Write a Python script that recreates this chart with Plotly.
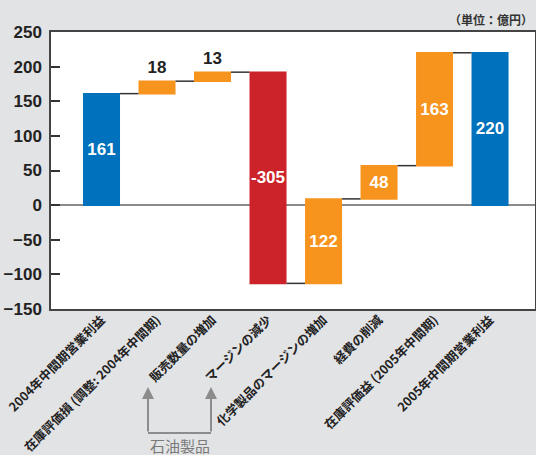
import plotly.graph_objects as go

# Operating income bridge (unit: 100 million yen)
categories = [
    "2004年中間期営業利益",
    "在庫評価損 (調整: 2004年中間期)",
    "販売数量の増加",
    "マージンの減少",
    "化学製品のマージンの増加",
    "経費の削減",
    "在庫評価益 (2005年中間期)",
    "2005年中間期営業利益",
]
values = [161, 18, 13, -305, 122, 48, 163, 220]
measures = ["absolute", "relative", "relative", "relative",
            "relative", "relative", "relative", "total"]
labels = ["161", "18", "13", "-305", "122", "48", "163", "220"]
label_pos = ["inside", "outside", "outside", "inside",
             "inside", "inside", "inside", "inside"]
y_ticks = [250, 200, 150, 100, 50, 0, -50, -100, -150]

BLUE = "#0071bc"
ORANGE = "#f7941d"
RED = "#cc2229"
BG = "#e2e3e5"
NUM_FONT = "Liberation Sans, Arial, sans-serif"
JP_FONT = "Noto Sans CJK JP, sans-serif"

fig = go.Figure(go.Waterfall(
    x=categories,
    y=values,
    measure=measures,
    text=labels,
    textinfo="text",
    textposition=label_pos,
    textangle=0,
    insidetextanchor="middle",
    constraintext="none",
    insidetextfont=dict(color="white", size=17, family=NUM_FONT, weight="bold"),
    outsidetextfont=dict(color="#222222", size=17, family=NUM_FONT, weight="bold"),
    increasing=dict(marker=dict(color=ORANGE)),
    decreasing=dict(marker=dict(color=RED)),
    totals=dict(marker=dict(color=BLUE)),
    connector=dict(mode="between", line=dict(color="#333333", width=1.5)),
    cliponaxis=False,
    hoverinfo="skip",
))

# Plot area geometry in pixels (used for the bracket below the labels)
L, R, T, B = 51, 1, 32, 146
W, H = 536, 455
pw, ph = W - L - R, H - T - B


def px_x(x):
    return (x - L) / pw


def px_y(y):
    return 1 - (y - T) / ph


fig.update_layout(
    width=W, height=H,
    margin=dict(l=L, r=R, t=T, b=B, pad=0, autoexpand=False),
    paper_bgcolor=BG,
    plot_bgcolor="white",
    showlegend=False,
    waterfallgap=0.333,
    font=dict(family=NUM_FONT, color="#222222"),
    xaxis=dict(
        type="category",
        range=[-0.91, 7.81],
        tickangle=-45,
        automargin=False,
        ticklabelstandoff=-3,
        tickfont=dict(family=JP_FONT, size=12.5, color="#222222", weight="bold"),
        showline=True, mirror=True, linecolor="#444444", linewidth=1.5,
        ticks="", showgrid=False, zeroline=False,
    ),
    yaxis=dict(
        range=[-150, 250],
        tickvals=y_ticks,
        automargin=False,
        ticks="inside", ticklen=9, tickwidth=1.5, tickcolor="#333333",
        tickfont=dict(family=NUM_FONT, size=17, color="#222222", weight="bold"),
        ticklabelstandoff=4,
        showline=True, mirror=True, linecolor="#444444", linewidth=1.5,
        showgrid=False,
        zeroline=True, zerolinecolor="#8a8a8a", zerolinewidth=1.5,
    ),
)

# Unit note
fig.add_annotation(
    text="（単位：億円）", xref="paper", yref="paper",
    x=1.0, y=px_y(19), xanchor="right", yanchor="middle",
    showarrow=False,
    font=dict(family=JP_FONT, size=12, color="#333333", weight="bold"),
)

# Bracket marking the petroleum-products items
GRAY = "#8c8c8c"
ax_left, ax_right, y_head, y_base = 148, 211, 387, 433
for xp in (ax_left, ax_right):
    fig.add_annotation(
        x=px_x(xp), y=px_y(y_head), xref="paper", yref="paper",
        ax=0, ay=y_base - y_head, text="",
        showarrow=True, arrowhead=2, arrowsize=1.2, arrowwidth=2,
        arrowcolor=GRAY,
    )
fig.add_shape(
    type="line", xref="paper", yref="paper",
    x0=px_x(ax_left), x1=px_x(ax_right), y0=px_y(y_base), y1=px_y(y_base),
    line=dict(color=GRAY, width=2),
)
fig.add_annotation(
    text="石油製品", xref="paper", yref="paper",
    x=px_x((ax_left + ax_right) / 2), y=px_y(445),
    xanchor="center", yanchor="middle", showarrow=False,
    font=dict(family=JP_FONT, size=15, color="#7a7a7a"),
)

fig.write_html("out.html")
